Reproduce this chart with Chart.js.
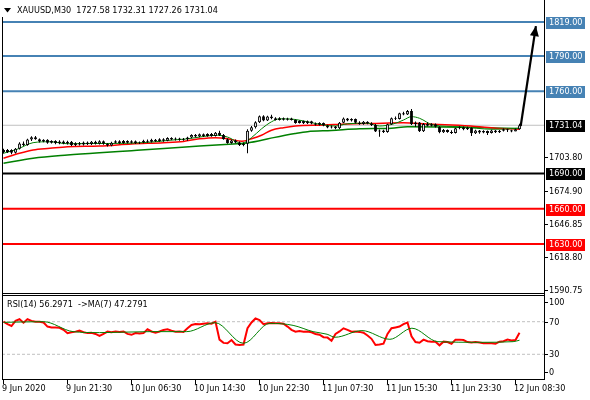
<!DOCTYPE html>
<html><head><meta charset="utf-8">
<script src="https://cdn.jsdelivr.net/npm/chart.js@4.4.0/dist/chart.umd.min.js"></script>
<style>html,body{margin:0;padding:0;background:#fff;overflow:hidden}canvas{display:block}</style>
</head><body>
<canvas id="c" width="590" height="400"></canvas>
<script>
// ---------------- DATA ----------------
const symbolTitle = 'XAUUSD,M30';
const lastOHLC = [1727.58, 1732.31, 1727.26, 1731.04];
const rsiTitle = 'RSI(14) 56.2971  ->MA(7) 47.2791';

const timeLabels = ['9 Jun 2020','9 Jun 21:30','10 Jun 06:30','10 Jun 14:30','10 Jun 22:30','11 Jun 07:30','11 Jun 15:30','11 Jun 23:30','12 Jun 08:30'];
const timeLabelBars = [0,16,32,48,64,80,96,112,128];

const opens = [1710.0,1708.2,1710.0,1707.6,1711.0,1715.5,1714.2,1719.0,1720.8,1719.2,1717.2,1718.6,1716.2,1717.6,
1715.8,1717.3,1715.6,1717.0,1714.2,1715.8,1714.6,1716.4,1715.0,1716.9,1715.3,1717.4,1715.2,1713.8,1716.2,1717.4,1716.0,1717.6,1716.2,1717.5,1715.9,1716.3,1717.8,1716.9,1718.8,1717.5,1719.2,1717.9,1720.2,1718.9,1719.8,1718.6,
1719.4,1720.6,1722.8,1721.4,1723.4,1721.8,1723.6,1722.0,1724.6,1722.8,
1719.2,1716.0,1718.0,1716.4,1714.2,
1715.4,1726.4,1729.4,1733.6,1738.8,1735.0,1738.6,1737.0,1735.6,1737.0,
1735.8,1736.9,1735.6,1733.0,1734.6,1732.8,1734.4,1732.6,1731.4,1733.0,
1730.8,1729.2,1730.0,1728.4,1733.2,1736.8,1735.0,1736.4,1733.2,1732.2,
1734.0,1732.6,1731.2,1725.8,1726.6,1725.2,1731.8,1737.0,1736.4,1741.2,
1740.2,1743.2,1731.8,1733.4,1726.0,1732.2,1730.6,1732.0,1729.8,1725.0,
1727.0,1725.4,1724.4,1728.4,1729.4,1727.6,1729.0,1724.2,1726.6,1724.8,
1726.2,1724.4,1726.6,1725.0,1726.4,1727.6,1726.8,1725.8,1727.58];
const highs = [1711.0,1710.8,1710.6,1711.6,1716.6,1717.2,1719.6,1721.6,1721.8,1719.8,1719.2,1719.2,1718.2,1718.2,
1718.2,1718.0,1717.9,1717.6,1716.6,1716.8,1717.2,1717.3,1717.6,1717.8,1718.2,1718.0,1716.0,1716.9,1718.2,1718.3,1718.4,1718.2,1718.3,1718.0,1717.2,1718.6,1718.9,1719.5,1719.4,1720.0,1719.9,1720.9,1720.8,1720.6,1720.5,1720.2,
1721.3,1723.4,1723.6,1724.1,1724.0,1724.3,1724.4,1725.2,1726.4,1723.5,
1719.8,1718.8,1718.9,1717.2,1716.3,
1727.6,1730.4,1734.4,1739.4,1739.6,1739.2,1740.0,1737.9,1737.8,1737.6,
1737.5,1737.4,1736.2,1735.3,1735.1,1735.0,1734.9,1733.4,1733.7,1733.4,
1731.4,1730.8,1730.4,1733.9,1737.6,1737.3,1737.1,1736.8,1734.4,1734.7,
1734.5,1733.6,1732.2,1727.4,1727.2,1732.4,1737.6,1738.4,1741.8,1742.6,
1744.0,1744.8,1734.2,1733.8,1733.0,1733.6,1732.8,1732.5,1730.3,1727.8,
1727.5,1726.8,1729.0,1730.1,1729.9,1729.7,1729.4,1727.3,1727.1,1726.9,
1726.6,1727.2,1727.0,1727.0,1728.2,1728.0,1727.3,1728.3,1732.31];
const lows = [1707.0,1707.4,1706.4,1707.0,1710.4,1713.4,1713.6,1717.6,1718.6,1716.4,1716.6,1715.4,1715.6,1714.9,
1714.9,1714.8,1714.6,1713.4,1713.4,1713.8,1713.9,1714.2,1714.3,1714.6,1714.6,1714.5,1713.0,1713.2,1715.5,1715.3,1715.4,1715.5,1715.6,1715.1,1715.0,1715.7,1716.2,1716.3,1716.8,1716.9,1717.1,1717.4,1718.2,1718.0,1717.9,1717.8,
1717.8,1719.9,1720.6,1720.8,1721.0,1721.2,1721.3,1721.5,1722.0,1718.6,
1715.2,1715.3,1715.7,1713.4,1713.2,
1707.2,1725.6,1728.2,1733.0,1734.4,1734.6,1736.2,1735.0,1735.0,1735.1,
1735.0,1735.0,1732.4,1732.5,1732.1,1732.2,1732.0,1730.8,1730.9,1730.2,
1728.6,1728.2,1727.6,1727.9,1732.7,1734.4,1734.3,1732.6,1731.4,1731.5,
1731.8,1730.5,1725.2,1721.2,1724.4,1724.6,1731.2,1735.6,1736.0,1739.6,
1739.8,1731.2,1729.6,1725.2,1725.4,1730.0,1729.9,1729.2,1724.2,1724.4,
1724.6,1723.6,1724.0,1727.6,1726.9,1727.0,1721.8,1723.6,1723.9,1724.2,
1722.8,1724.0,1724.4,1724.5,1725.8,1725.2,1725.0,1725.9,1727.26];
const closes = [1708.2,1710.0,1707.6,1711.0,1715.5,1714.2,1719.0,1720.8,1719.2,1717.2,1718.6,1716.2,1717.6,1715.8,
1717.3,1715.6,1717.0,1714.2,1715.8,1714.6,1716.4,1715.0,1716.9,1715.3,1717.4,1715.2,1713.8,1716.2,1717.4,1716.0,1717.6,1716.2,1717.5,1715.9,1716.3,1717.8,1716.9,1718.8,1717.5,1719.2,1717.9,1720.2,1718.9,1719.8,1718.6,1719.4,
1720.6,1722.8,1721.4,1723.4,1721.8,1723.6,1722.0,1724.6,1722.8,1719.2,
1716.0,1718.0,1716.4,1714.2,1715.4,
1726.4,1729.4,1733.6,1738.8,1735.0,1738.6,1737.0,1735.6,1737.0,1735.8,
1736.9,1735.6,1733.0,1734.6,1732.8,1734.4,1732.6,1731.4,1733.0,1730.8,
1729.2,1730.0,1728.4,1733.2,1736.8,1735.0,1736.4,1733.2,1732.2,1734.0,
1732.6,1731.2,1725.8,1726.6,1725.2,1731.8,1737.0,1736.4,1741.2,1740.2,
1743.2,1731.8,1733.4,1726.0,1732.2,1730.6,1732.0,1729.8,1725.0,1727.0,
1725.4,1724.4,1728.4,1729.4,1727.6,1729.0,1724.2,1726.6,1724.8,1726.2,
1724.4,1726.6,1725.0,1726.4,1727.6,1726.8,1725.8,1727.6,1731.04];

// moving averages: [bar, price]
const maFast = [[0,1707.2],[3.4,1710.6],[7.4,1716.2],[11.6,1717],[16,1715.3],[24,1715.5],[32,1715.8],[38,1717],[42,1718.4],[46,1719.5],[50,1721.5],[53.5,1722.5],[56,1721],[59.6,1715.7],[62,1720.5],[64.5,1728],[67,1734],[69,1736.5],[72,1736.3],[76,1734],[80,1731.3],[83,1730.4],[86,1732.3],[91,1732.8],[94,1730.4],[97.4,1732.1],[100,1735.5],[102,1738.4],[104,1737],[107.4,1731.3],[114,1729.8],[122.4,1727.6],[129,1728.5]];
const maMid = [[0,1702.9],[4,1707.2],[7.4,1710],[11.6,1711.4],[16,1712.8],[24,1713.4],[32,1715.1],[40,1716.2],[45,1717.3],[49,1719.5],[53,1720.5],[56,1719.6],[59.6,1717.4],[62,1719.5],[64.5,1722.5],[67,1726.8],[70,1729],[73,1730.4],[80,1731.2],[86,1732.2],[92,1732.6],[100,1733.2],[106,1732.1],[112,1731.2],[118,1730],[123,1728.6],[129,1727.7]];
const maSlow = [[0,1698.6],[7.4,1702.9],[16,1705.7],[24,1707.7],[32,1709.4],[41,1711.4],[49,1713.4],[57.4,1715.1],[60,1715.6],[64,1717.9],[67.5,1720.5],[72.9,1724],[76,1725.6],[82,1726.6],[89,1728],[97,1728.6],[101,1729.8],[110,1729.6],[118,1729.2],[129,1728.2]];

const rsiValues = [70,67,64.7,71,73,68.8,73,71,70,70,
69,64,63,63,62.5,60,55.8,57,57.8,59,
57,56,56.5,55,52.5,55,57.8,57,58,57.5,
58,55,53.9,56,55.5,56,60.7,58,56.6,58,
59.9,60.7,59,57.8,58,57.5,62,66,67.2,67,
67.5,68,67.5,70,48,44,43.5,47.5,42,41.4,
42,62,69,74,72,67,68,68.5,68,68,
67.5,64,60,57.8,58.5,57.8,58,57,55,54,
51,50.5,46.7,55,58,61.9,60,57.8,58,57.5,
56.5,53,49,41.4,42,43,55,62,63,64,
67,69,52,45,44.2,48,46,45.5,45.5,41,
45.5,45,43,48,48,47.5,45,44.5,45,44.5,
43.5,43.5,43.5,43,45.5,46,48,47,47.5,56.3];
const rsiMA = [[0,69.2],[10,70],[17.4,57.8],[24,56.6],[36.6,57.8],[45.8,57.8],[52.9,68.8],[60,43.5],[66.6,68],[72.4,65.5],[77.4,57.8],[80.9,54.6],[82.9,50.9],[89.6,59.1],[96.6,48.4],[102.1,62],[108.6,45.5],[119.1,44.7],[127.4,45.5],[129,47.3]];

const levelValues = [1819, 1790, 1760, 1690, 1660, 1630];
const levelKinds  = ['res','res','res','pivot','sup','sup'];
const priceTickValues = [1703.80, 1674.90, 1646.85, 1618.80, 1590.75];
const rsiTickValues = [100, 70, 30, 0];
const rsiLevels = [70, 30];
const arrowBars = [129.3, 133.1];
const arrowPrices = [1730.4, 1815.5];

// ---------------- STYLE / LAYOUT ----------------
const LEVEL_COLORS = {res:'#4682B4', pivot:'#000000', sup:'#FF0000'};
const FONT = '9px "DejaVu Sans Condensed", "Liberation Sans", Arial, sans-serif';
const X_MIN = -0.375, X_MAX = 135.375;
const PRICE_MIN = 1514.91, PRICE_MAX = 1837.74;
const RSI_MIN = -0.31, RSI_MAX = 464.7;
const MAIN_BOTTOM = 293, RSI_TOP = 295;

const fmt2 = v => v.toFixed(2);
const bodies = opens.map((o,i)=>({x:i, y:[o, closes[i]]}));
const wicks = lows.map((l,i)=>({x:i, y:[l, highs[i]]}));
const bodyColors = opens.map((o,i)=> closes[i] >= o ? '#ffffff' : '#000000');
const pts = arr => arr.map(p=>({x:p[0], y:p[1]}));
const hline = v => [{x:X_MIN, y:v},{x:X_MAX, y:v}];

const datasets = [];
datasets.push({type:'line', data: arrowBars.map((b,i)=>({x:b, y:arrowPrices[i]})), borderColor:'#000', borderWidth:2.2, pointRadius:0, yAxisID:'y'});
datasets.push({type:'bar', data: bodies, backgroundColor: bodyColors, borderColor:'#000', borderWidth:1, borderSkipped:false, grouped:false, maxBarThickness:3, inflateAmount:0, yAxisID:'y'});
datasets.push({type:'bar', data: wicks, backgroundColor:'#000', borderWidth:0, grouped:false, maxBarThickness:1, inflateAmount:0, yAxisID:'y'});
datasets.push({type:'line', data: pts(maFast), borderColor:'#008000', borderWidth:1, pointRadius:0, cubicInterpolationMode:'monotone', yAxisID:'y'});
datasets.push({type:'line', data: pts(maMid), borderColor:'#FF0000', borderWidth:1.5, pointRadius:0, cubicInterpolationMode:'monotone', yAxisID:'y'});
datasets.push({type:'line', data: pts(maSlow), borderColor:'#008000', borderWidth:1.5, pointRadius:0, cubicInterpolationMode:'monotone', yAxisID:'y'});
levelValues.forEach((v,i)=>{
  datasets.push({type:'line', data: hline(v), borderColor: LEVEL_COLORS[levelKinds[i]], borderWidth:2, pointRadius:0, yAxisID:'y'});
});
datasets.push({type:'line', data: hline(lastOHLC[3]), borderColor:'#c0c0c0', borderWidth:1, pointRadius:0, yAxisID:'y'});
datasets.push({type:'line', data: pts(rsiMA), borderColor:'#008000', borderWidth:1, pointRadius:0, cubicInterpolationMode:'monotone', yAxisID:'y2'});
datasets.push({type:'line', data: rsiValues.map((v,i)=>({x:i,y:v})), borderColor:'#FF0000', borderWidth:2, pointRadius:0, yAxisID:'y2'});
rsiLevels.forEach(v=>{
  datasets.push({type:'line', data: hline(v), borderColor:'#c0c0c0', borderWidth:1, borderDash:[3,2], pointRadius:0, yAxisID:'y2'});
});

const deco = {
  id:'deco',
  afterDraw(chart){
    const ctx = chart.ctx, a = chart.chartArea;
    const xs = chart.scales.x, ys = chart.scales.y, rs = chart.scales.y2;
    ctx.save();
    // arrow head
    const x0 = xs.getPixelForValue(arrowBars[0]), y0 = ys.getPixelForValue(arrowPrices[0]);
    const x1 = xs.getPixelForValue(arrowBars[1]), y1 = ys.getPixelForValue(arrowPrices[1]);
    const ang = Math.atan2(y1-y0, x1-x0);
    ctx.fillStyle = '#000';
    ctx.beginPath();
    ctx.moveTo(x1, y1);
    ctx.lineTo(x1 - 10*Math.cos(ang) + 4.5*Math.sin(ang), y1 - 10*Math.sin(ang) - 4.5*Math.cos(ang));
    ctx.lineTo(x1 - 10*Math.cos(ang) - 4.5*Math.sin(ang), y1 - 10*Math.sin(ang) + 4.5*Math.cos(ang));
    ctx.closePath(); ctx.fill();

    // frames
    const W = a.right - a.left;
    ctx.fillStyle = '#fff';
    ctx.fillRect(a.left-2, MAIN_BOTTOM+1, W+2, RSI_TOP-MAIN_BOTTOM-1);
    ctx.fillStyle = '#000';
    ctx.fillRect(a.left, 17, 1, a.bottom - 17 + 1);
    ctx.fillRect(a.right - 1, 0, 1, a.bottom + 1);
    ctx.fillRect(a.left, MAIN_BOTTOM, W, 1);
    ctx.fillRect(a.left, RSI_TOP, W, 1);
    ctx.fillRect(a.left, a.bottom, W, 1);

    ctx.font = FONT; ctx.textBaseline = 'middle'; ctx.textAlign = 'left';
    // price ticks
    priceTickValues.forEach(v=>{
      const y = Math.round(ys.getPixelForValue(v));
      ctx.fillStyle = '#000';
      ctx.fillRect(a.right, y, 3, 1);
      ctx.fillText(fmt2(v), a.right + 4, y + 0.5);
    });
    // level boxes
    const box = (v, bg) => {
      const y = Math.round(ys.getPixelForValue(v));
      ctx.fillStyle = bg;
      ctx.fillRect(a.right + 1, y - 5, 39, 12);
      ctx.fillStyle = '#fff';
      ctx.fillText(fmt2(v), a.right + 4, y + 1);
    };
    levelValues.forEach((v,i)=> box(v, LEVEL_COLORS[levelKinds[i]]));
    box(lastOHLC[3], '#000');

    // RSI ticks
    rsiTickValues.forEach(v=>{
      let y = rs.getPixelForValue(v);
      y = Math.round(Math.min(Math.max(y, RSI_TOP + 7), a.bottom - 7));
      ctx.fillStyle = '#000';
      ctx.fillRect(a.right, y, 3, 1);
      ctx.fillText(String(v), a.right + 4, y + 0.5);
    });

    // time axis
    timeLabelBars.forEach((b,i)=>{
      const px = xs.getPixelForValue(b);
      ctx.fillStyle = '#000';
      ctx.fillRect(Math.floor(px), a.bottom + 1, 1, 4);
      ctx.fillText(timeLabels[i], Math.floor(px) - 1, a.bottom + 9.5);
    });

    // header
    ctx.beginPath();
    ctx.moveTo(4, 8); ctx.lineTo(11, 8); ctx.lineTo(7.5, 12.5); ctx.closePath(); ctx.fill();
    ctx.fillText(symbolTitle + '  ' + lastOHLC.map(fmt2).join(' '), 17, 11);
    // RSI title
    ctx.fillText(rsiTitle, 7, RSI_TOP + 10);
    ctx.restore();
  }
};

new Chart(document.getElementById('c'), {
  type:'line',
  data:{datasets},
  options:{
    responsive:false, animation:false, devicePixelRatio:1, events:[],
    layout:{padding:{left:2, top:0, right:45, bottom:21}},
    plugins:{legend:{display:false}, tooltip:{enabled:false}},
    scales:{
      x:{type:'linear', display:false, min:X_MIN, max:X_MAX, offset:false},
      y:{type:'linear', display:false, min:PRICE_MIN, max:PRICE_MAX},
      y2:{type:'linear', display:false, min:RSI_MIN, max:RSI_MAX}
    }
  },
  plugins:[deco]
});
</script>
</body></html>
